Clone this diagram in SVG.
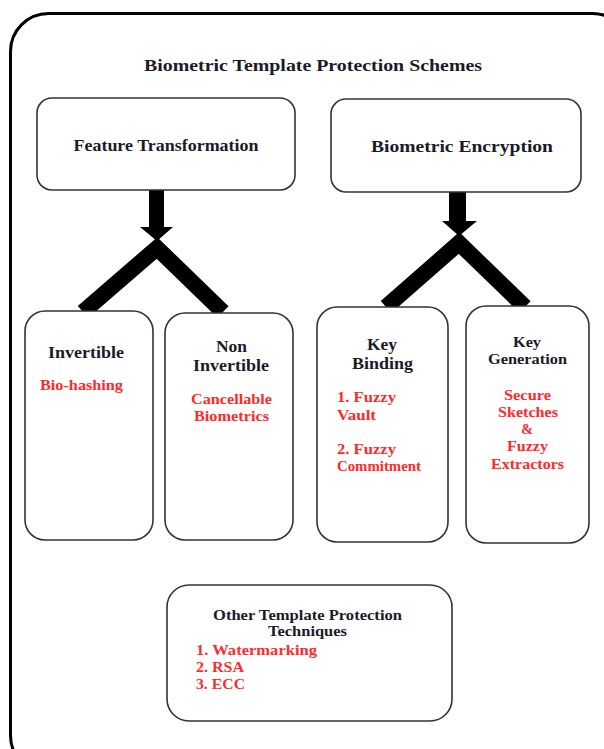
<svg xmlns="http://www.w3.org/2000/svg" width="604" height="749" viewBox="0 0 604 749" font-family="Liberation Serif" font-weight="bold">
<style>
.frame{fill:none;stroke:#000;stroke-width:3}
.box{fill:#fff;stroke:#333;stroke-width:1.6}
.t{fill:#1a1a28;text-anchor:middle}
.r{fill:#ff2a2a}
.m{text-anchor:middle}
.v{fill:none;stroke:#000;stroke-width:16;stroke-linejoin:miter;stroke-miterlimit:4}
</style>
<rect class="frame" x="10.5" y="13.5" width="620" height="760" rx="38"/>
<text class="t" x="313" y="71" font-size="16.5" textLength="338" lengthAdjust="spacingAndGlyphs">Biometric Template Protection Schemes</text>
<g id="connectors">
  <polyline class="v" points="83,312 157,248 223,312"/>
  <rect x="149" y="190" width="15" height="38" fill="#000"/>
  <polygon points="140,227 173,227 157,241" fill="#000"/>
  <polyline class="v" points="386,307 459,243 525,307"/>
  <rect x="449" y="192" width="17" height="30" fill="#000"/>
  <polygon points="442,221 477,221 459,236" fill="#000"/>
</g>
<g id="feature">
  <rect class="box" x="37" y="98" width="258" height="92" rx="15"/>
  <text class="t" x="166" y="151" font-size="16" textLength="185" lengthAdjust="spacingAndGlyphs">Feature Transformation</text>
</g>
<g id="encryption">
  <rect class="box" x="331" y="99" width="250" height="93" rx="15"/>
  <text class="t" x="462" y="152" font-size="16.5" textLength="182" lengthAdjust="spacingAndGlyphs">Biometric Encryption</text>
</g>
<g id="invertible">
  <rect class="box" x="25" y="311" width="128" height="229" rx="20"/>
  <text class="t" x="86" y="358" font-size="16" textLength="76" lengthAdjust="spacingAndGlyphs">Invertible</text>
  <text class="r m" x="81.5" y="390" font-size="14.5" textLength="83" lengthAdjust="spacingAndGlyphs">Bio-hashing</text>
</g>
<g id="noninvertible">
  <rect class="box" x="165" y="313" width="128" height="227" rx="20"/>
  <text class="t" x="231.5" y="352" font-size="16" textLength="31" lengthAdjust="spacingAndGlyphs">Non</text>
  <text class="t" x="231" y="371" font-size="16" textLength="76" lengthAdjust="spacingAndGlyphs">Invertible</text>
  <text class="r m" x="231.5" y="404" font-size="14.5" textLength="81" lengthAdjust="spacingAndGlyphs">Cancellable</text>
  <text class="r m" x="231.5" y="421" font-size="14.5" textLength="75" lengthAdjust="spacingAndGlyphs">Biometrics</text>
</g>
<g id="keybinding">
  <rect class="box" x="317" y="307" width="131" height="235" rx="20"/>
  <text class="t" x="382" y="350" font-size="16" textLength="30" lengthAdjust="spacingAndGlyphs">Key</text>
  <text class="t" x="382.5" y="369" font-size="16" textLength="61" lengthAdjust="spacingAndGlyphs">Binding</text>
  <text class="r" x="337" y="402" font-size="14.5" textLength="59" lengthAdjust="spacingAndGlyphs">1. Fuzzy</text>
  <text class="r" x="337" y="420" font-size="14.5" textLength="39" lengthAdjust="spacingAndGlyphs">Vault</text>
  <text class="r" x="337" y="454" font-size="14.5" textLength="59" lengthAdjust="spacingAndGlyphs">2. Fuzzy</text>
  <text class="r" x="337" y="471" font-size="14.5" textLength="84" lengthAdjust="spacingAndGlyphs">Commitment</text>
</g>
<g id="keygeneration">
  <rect class="box" x="466" y="306" width="123" height="237" rx="20"/>
  <text class="t" x="527" y="347" font-size="15" textLength="28" lengthAdjust="spacingAndGlyphs">Key</text>
  <text class="t" x="527.5" y="364" font-size="14.5" textLength="79" lengthAdjust="spacingAndGlyphs">Generation</text>
  <text class="r m" x="527.5" y="400" font-size="14.5" textLength="47" lengthAdjust="spacingAndGlyphs">Secure</text>
  <text class="r m" x="528" y="417" font-size="14.5" textLength="60" lengthAdjust="spacingAndGlyphs">Sketches</text>
  <text class="r m" x="527" y="434" font-size="14.5">&amp;</text>
  <text class="r m" x="527.5" y="451" font-size="14.5" textLength="41" lengthAdjust="spacingAndGlyphs">Fuzzy</text>
  <text class="r m" x="527.5" y="469" font-size="14.5" textLength="73" lengthAdjust="spacingAndGlyphs">Extractors</text>
</g>
<g id="other">
  <rect class="box" x="167" y="585" width="285" height="136" rx="22"/>
  <text class="t" x="307.5" y="620" font-size="15" textLength="189" lengthAdjust="spacingAndGlyphs">Other Template Protection</text>
  <text class="t" x="307.5" y="636" font-size="15" textLength="79" lengthAdjust="spacingAndGlyphs">Techniques</text>
  <text class="r" x="196" y="655" font-size="15" textLength="121" lengthAdjust="spacingAndGlyphs">1. Watermarking</text>
  <text class="r" x="196" y="672" font-size="15" textLength="48" lengthAdjust="spacingAndGlyphs">2. RSA</text>
  <text class="r" x="196" y="689" font-size="15" textLength="49" lengthAdjust="spacingAndGlyphs">3. ECC</text>
</g>
</svg>
